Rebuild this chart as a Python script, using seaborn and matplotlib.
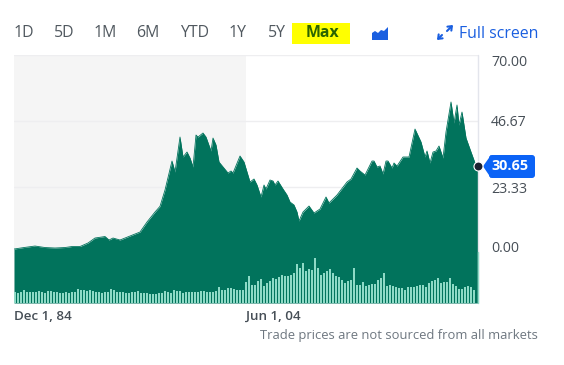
import seaborn as sns
import pandas as pd
import matplotlib.pyplot as plt
from matplotlib.patches import Polygon, Rectangle, FancyBboxPatch
from matplotlib.transforms import ScaledTranslation

# Data
months = [0, 10, 21, 31, 41, 51, 58, 66, 74, 81, 91, 95, 99, 106, 116, 126, 133, 141, 146, 151, 158,
          161, 166, 169, 173, 176, 179, 182, 184, 189, 192, 197, 199, 202, 205, 214, 217, 219, 226,
          230, 236, 240, 243, 247, 250, 252, 256, 259, 261, 264, 269, 273, 276, 280, 283, 285, 289,
          295, 300, 306, 312, 315, 323, 333, 337, 343, 346, 351, 358, 360, 363, 366, 369, 372, 374,
          378, 380, 383, 389, 395, 401, 407, 411, 413, 416, 419, 422, 425, 429, 432, 437, 440, 443,
          445, 448, 452, 457, 461, 464]
price = [1.41, 1.94, 2.47, 1.94, 1.77, 1.94, 2.30, 2.30, 3.54, 5.30, 5.83, 4.60, 5.30, 4.60, 6.01,
         7.42, 10.96, 14.49, 16.5, 22.27, 32.52, 28.63, 41.0, 33.94, 35.7, 33.58, 30.4, 41.71, 41.0,
         42.42, 41.0, 36.06, 40.65, 38.18, 32.17, 28.28, 28.99, 28.28, 34.29, 32.17, 25.1, 26.16,
         24.04, 19.8, 24.04, 22.62, 25.81, 25.45, 24.04, 25.45, 22.62, 20.5, 18.03, 16.97, 14.49,
         11.31, 14.49, 16.61, 14.14, 15.55, 19.8, 17.68, 20.5, 25.1, 26.16, 30.05, 28.99, 27.57,
         32.52, 32.52, 30.4, 30.75, 27.93, 32.52, 32.52, 30.05, 31.82, 30.75, 33.94, 33.94, 43.83,
         39.24, 33.94, 36.06, 31.82, 35.7, 36.06, 37.82, 33.58, 42.77, 53.38, 45.95, 52.32, 45.24,
         49.84, 40.65, 35.7, 31.82, 30.65]
volume = [11, 10, 11, 13, 11, 11, 11, 11, 12, 11, 10, 12, 12, 11, 11, 10, 10, 11, 10, 11, 11, 14, 13,
          13, 12, 13, 12, 11, 11, 10, 11, 11, 14, 13, 11, 11, 11, 10, 10, 11, 11, 12, 10, 10, 10, 9,
          9, 9, 10, 10, 12, 11, 10, 13, 12, 12, 10, 11, 11, 11, 11, 11, 12, 12, 11, 11, 11, 12, 16,
          13, 13, 15, 15, 14, 13, 13, 13, 21, 27, 18, 18, 22, 24, 17, 20, 22, 25, 24, 26,
          28, 27, 27, 28, 30, 39, 35, 40, 32, 34, 33, 45, 35, 28, 30, 32, 34, 30, 27, 26,
          23, 20, 22, 23, 35, 18, 18, 21, 17, 18, 19, 19, 23, 25, 30, 17, 18, 17,
          16, 15, 15, 13, 16, 16, 16, 17, 18, 18, 16, 20, 22, 23, 25, 20, 21, 21, 25, 19, 17, 14, 14,
          16, 17, 16, 13]
range_labels = ['1D', '5D', '1M', '6M', 'YTD', '1Y', '5Y']
y_ticks = [70.0, 46.67, 23.33, 0.0]
x_ticks = [0, 232]
x_labels = ['Dec 1, 84', 'Jun 1, 04']
last_price = 30.65

GREEN = '#01735c'
GREY = '#50585f'
BLUE = '#1a5fe0'
TAG_BLUE = '#0b63f6'
W, H = 564, 365

sns.set_style('white')
plt.rcParams['font.family'] = ['Open Sans', 'DejaVu Sans']

fig = plt.figure(figsize=(W / 100, H / 100), dpi=100)
box = [14 / W, 1 - 303 / H, 464 / W, 248 / H]

# Price area
ax = fig.add_axes(box)
ax.set_xlim(0, 464)
ax.set_ylim(-17.67, 70)
ax.axvspan(0, 232, color='#f5f5f5', lw=0, zorder=0)
for v in y_ticks:
    ax.axhline(v, color='#eeeef0', lw=1, zorder=1)
df = pd.DataFrame({'month': months, 'price': price})
ax.fill_between(df['month'], df['price'], -17.67, color=GREEN, lw=0, zorder=2)
sns.lineplot(x='month', y='price', data=df, color=GREEN, linewidth=0.6, ax=ax, zorder=3)
ax.set_xlabel('')
ax.set_ylabel('')
sns.despine(ax=ax, left=True, top=True, right=True, bottom=True)

ax.yaxis.tick_right()
ax.set_yticks(y_ticks)
ax.set_yticklabels(['%.2f' % v for v in y_ticks], fontsize=10.2, color='#464e56')
ax.tick_params(axis='y', length=0, pad=9.4)
ax.set_xticks(x_ticks)
ax.set_xticklabels(x_labels, fontsize=9.6, color='#464e56', fontweight='semibold', ha='left')
ax.tick_params(axis='x', length=0, pad=5)
nudges = [-6, 0, 0, 7]
for lab, dy in zip(ax.get_yticklabels(), nudges):
    lab.set_transform(lab.get_transform() + ScaledTranslation(0, dy / 100, fig.dpi_scale_trans))

# Volume bars
vol = fig.add_axes(box)
vol.patch.set_alpha(0)
vdf = pd.DataFrame({'month': [i * 3 + 1 for i in range(len(volume))], 'volume': volume})
sns.barplot(x='month', y='volume', data=vdf, native_scale=True, color='#8edac6', saturation=1,
            width=0.6, linewidth=0, ax=vol)
vol.set_xlim(0, 464)
vol.set_ylim(0, 248)
vol.axis('off')

# Page furniture drawn in pixel coordinates
ui = fig.add_axes([0, 0, 1, 1])
ui.set_xlim(0, W)
ui.set_ylim(H, 0)
ui.axis('off')
ui.patch.set_alpha(0)

ui.plot([478, 478], [55, 303], color='#e3e5ec', lw=1, zorder=1)
ui.plot([477.5, 477.5], [252, 303], color='#8edac6', lw=1, zorder=1)
for label, x in zip(range_labels, [24, 64, 105, 148, 195, 238, 277]):
    ui.text(x, 33, label, ha='center', va='center', fontsize=11.4, color=GREY, fontweight='medium')
ui.add_patch(Rectangle((292, 23), 58, 21, color='#ffff00', lw=0))
ui.text(322, 33, 'Max', ha='center', va='center', fontsize=11.4, color='#2b6400', fontweight='bold')
ui.add_patch(Polygon([(372, 40), (372, 33), (375, 31), (378, 33), (381, 30), (384, 31), (388, 27), (388, 40)],
                     color=BLUE, lw=0))
ui.text(459, 33.5, 'Full screen', ha='left', va='center', fontsize=11.4, color=BLUE, fontweight='medium')
for a, b in [((447, 31), (453, 25)), ((442, 35), (437, 40))]:
    ui.annotate('', xy=b, xytext=a, arrowprops=dict(arrowstyle='->,head_length=0.25,head_width=0.2',
                                                     color=BLUE, lw=1.5, shrinkA=0, shrinkB=0))
ui.text(538, 336, 'Trade prices are not sourced from all markets', ha='right', va='center',
        fontsize=9.4, color='#6e7780')

# Last price marker and tag
y_last = 253 - last_price / 70 * 198
ui.add_patch(Polygon([(483, y_last), (491, 155), (491, 178)], color=TAG_BLUE, lw=0))
ui.add_patch(FancyBboxPatch((489, 155), 46, 23, boxstyle='round,pad=0,rounding_size=3', color=TAG_BLUE, lw=0))
ui.text(510, y_last, '%.2f' % last_price, ha='center', va='center', fontsize=10.4, color='white',
        fontweight='bold')
ui.plot([478], [y_last], 'o', ms=6.5, color='#1c2230', mec='white', mew=0.8, zorder=5)

fig.savefig('out.png', dpi=100)
